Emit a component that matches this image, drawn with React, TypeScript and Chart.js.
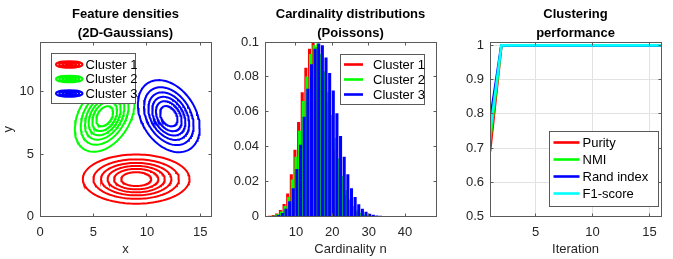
import React, { useEffect, useRef } from 'react';
import { Chart, registerables } from 'chart.js';

Chart.register(...registerables);

const FONT_FAMILY = "'Liberation Sans', Arial, Helvetica, sans-serif";
const AXIS_COLOR = '#262626';
const BOX_COLOR = '#5a5a5a';
const GRID_COLOR = '#e2e2e2';

// ---------- Panel 1: feature densities ----------
const CLUSTER_LABELS = ['Cluster 1', 'Cluster 2', 'Cluster 3'];
const CLUSTER_COLORS = ['#ff0000', '#00ff00', '#0000ff'];
const FEATURE_MEAN_X = [9, 6.05, 12.05];
const FEATURE_MEAN_Y = [3, 8.05, 8.05];
const FEATURE_VAR_X = [6.4, 2.0, 2.15];
const FEATURE_VAR_Y = [1.0, 2.1, 2.15];
const FEATURE_COV_XY = [0, 0.75, -0.7];
const CONTOUR_LEVELS = [1 / 7, 2 / 7, 3 / 7, 4 / 7, 5 / 7, 6 / 7];
const FEATURE_X_TICKS = [0, 5, 10, 15];
const FEATURE_Y_TICKS = [0, 5, 10];

// ---------- Panel 2: cardinality distributions ----------
const CARD_N = [3, 4, 5, 6, 7, 8, 9, 10, 11, 12, 13, 14, 15, 16, 17, 18, 19, 20, 21, 22, 23, 24, 25, 26, 27, 28, 29, 30, 31, 32, 33, 34, 35];
const CARD_P1 = [0.0002, 0.0006, 0.0015, 0.0035, 0.007, 0.013, 0.024, 0.038, 0.054, 0.071, 0.085, 0.096, 0.1, 0.097, 0.089, 0.078, 0.065, 0.051, 0.038, 0.027, 0.018, 0.012, 0.007, 0.004, 0.0024, 0.0013, 0.0007, 0.0003, 0.0002, 0, 0, 0, 0];
const CARD_P2 = [0.0001, 0.0004, 0.0011, 0.0027, 0.0058, 0.011, 0.021, 0.034, 0.049, 0.066, 0.08, 0.093, 0.098, 0.099, 0.093, 0.083, 0.071, 0.058, 0.045, 0.033, 0.023, 0.015, 0.0095, 0.0058, 0.0034, 0.0019, 0.001, 0.0005, 0.0003, 0.0001, 0, 0, 0];
const CARD_P3 = [0.0001, 0.0002, 0.0007, 0.0018, 0.0042, 0.0085, 0.016, 0.027, 0.041, 0.057, 0.073, 0.087, 0.096, 0.099, 0.098, 0.091, 0.082, 0.072, 0.059, 0.046, 0.034, 0.024, 0.016, 0.011, 0.0068, 0.0042, 0.0025, 0.0014, 0.0008, 0.0004, 0.0002, 0.0001, 0];
const CARD_X_TICKS = [10, 20, 30, 40];
const CARD_Y_TICKS = [0, 0.02, 0.04, 0.06, 0.08, 0.1];
const CARD_Y_LABELS = ['0', '0.02', '0.04', '0.06', '0.08', '0.1'];

// ---------- Panel 3: clustering performance ----------
const ITERATIONS = [1, 2, 3, 4, 5, 6, 7, 8, 9, 10, 11, 12, 13, 14, 15, 16];
const PURITY = [0.69, 1, 1, 1, 1, 1, 1, 1, 1, 1, 1, 1, 1, 1, 1, 1];
const NMI = [0.72, 1, 1, 1, 1, 1, 1, 1, 1, 1, 1, 1, 1, 1, 1, 1];
const RAND_INDEX = [0.78, 1, 1, 1, 1, 1, 1, 1, 1, 1, 1, 1, 1, 1, 1, 1];
const F1_SCORE = [0.745, 1, 1, 1, 1, 1, 1, 1, 1, 1, 1, 1, 1, 1, 1, 1];
const PERF_LABELS = ['Purity', 'NMI', 'Rand index', 'F1-score'];
const PERF_COLORS = ['#ff0000', '#00ff00', '#0000ff', '#00ffff'];
const PERF_X_TICKS = [5, 10, 15];
const PERF_Y_TICKS = [0.5, 0.6, 0.7, 0.8, 0.9, 1];
const PERF_Y_LABELS = ['0.5', '0.6', '0.7', '0.8', '0.9', '1'];

// ---------- layout constants ----------
const CANVAS_H = 259;
const AREA_TOP = 42;
const X_AXIS_H = 42.5;
const Y_AXIS_W = 40;
const BAR_OFFSETS = [-0.27, 0, 0.27];

const font13 = { family: FONT_FAMILY, size: 13 };

function makeAxis(o: { min: number; max: number; ticks: number[]; labels?: string[]; title?: string; horizontal: boolean; titlePad?: any }) {
  return {
    type: 'linear',
    min: o.min,
    max: o.max,
    offset: false,
    grid: { display: false, drawTicks: false },
    border: { display: false },
    ticks: {
      autoSkip: false,
      maxRotation: 0,
      minRotation: 0,
      padding: o.horizontal ? 8 : 6,
      color: AXIS_COLOR,
      font: font13,
      callback: (v: any, i: number) => (o.labels ? o.labels[i] : String(o.ticks[i])),
    },
    afterBuildTicks: (s: any) => {
      s.ticks = o.ticks.map((v) => ({ value: v }));
    },
    afterFit: (s: any) => {
      if (o.horizontal) s.height = X_AXIS_H;
      else s.width = Y_AXIS_W;
    },
    title: o.title
      ? { display: true, text: o.title, color: AXIS_COLOR, font: font13, padding: o.titlePad || { top: 0, bottom: 2 } }
      : { display: false },
  };
}

type LegendItem = { label: string; color: string; kind: 'ellipse' | 'line' };
type FrameCfg = {
  title: string[];
  xTicks: number[];
  yTicks: number[];
  grid?: boolean;
  legend: { x: number; y: number; w: number; h: number; rows: number[]; sampleX0: number; sampleX1: number; textX: number; items: LegendItem[] };
};

function framePlugin(cfg: FrameCfg) {
  return {
    id: 'matlabFrame',
    beforeDatasetsDraw(chart: any) {
      if (!cfg.grid) return;
      const { ctx, chartArea: a, scales } = chart;
      ctx.save();
      ctx.strokeStyle = GRID_COLOR;
      ctx.lineWidth = 1;
      cfg.xTicks.forEach((v) => {
        const p = Math.floor(scales.x.getPixelForValue(v)) + 0.5;
        ctx.beginPath();
        ctx.moveTo(p, a.top);
        ctx.lineTo(p, a.bottom);
        ctx.stroke();
      });
      cfg.yTicks.forEach((v) => {
        const p = Math.floor(scales.y.getPixelForValue(v)) + 0.5;
        ctx.beginPath();
        ctx.moveTo(a.left, p);
        ctx.lineTo(a.right, p);
        ctx.stroke();
      });
      ctx.restore();
    },
    afterDraw(chart: any) {
      const { ctx, chartArea: a, scales } = chart;
      ctx.save();
      const L = Math.floor(a.left) + 0.5;
      const R = Math.floor(a.right) + 0.5;
      const T = Math.floor(a.top) + 0.5;
      const B = Math.floor(a.bottom) + 0.5;
      ctx.strokeStyle = BOX_COLOR;
      ctx.lineWidth = 1;
      const tl = 3;
      ctx.beginPath();
      cfg.xTicks.forEach((v) => {
        const p = Math.floor(scales.x.getPixelForValue(v)) + 0.5;
        ctx.moveTo(p, B);
        ctx.lineTo(p, B - tl);
        ctx.moveTo(p, T);
        ctx.lineTo(p, T + tl);
      });
      cfg.yTicks.forEach((v) => {
        const p = Math.floor(scales.y.getPixelForValue(v)) + 0.5;
        ctx.moveTo(L, p);
        ctx.lineTo(L + tl, p);
        ctx.moveTo(R, p);
        ctx.lineTo(R - tl, p);
      });
      ctx.stroke();
      ctx.strokeRect(L, T, R - L, B - T);

      // legend
      const lg = cfg.legend;
      ctx.fillStyle = '#ffffff';
      ctx.fillRect(lg.x, lg.y, lg.w, lg.h);
      ctx.strokeStyle = BOX_COLOR;
      ctx.strokeRect(Math.floor(lg.x) + 0.5, Math.floor(lg.y) + 0.5, Math.round(lg.w), Math.round(lg.h));
      ctx.font = `13px ${FONT_FAMILY}`;
      ctx.textBaseline = 'middle';
      ctx.textAlign = 'left';
      lg.items.forEach((it, i) => {
        const cy = lg.rows[i];
        ctx.strokeStyle = it.color;
        if (it.kind === 'line') {
          ctx.lineWidth = 2.6;
          ctx.beginPath();
          ctx.moveTo(lg.sampleX0, cy);
          ctx.lineTo(lg.sampleX1, cy);
          ctx.stroke();
        } else {
          const cx = (lg.sampleX0 + lg.sampleX1) / 2;
          const hw = (lg.sampleX1 - lg.sampleX0) / 2;
          ctx.lineWidth = 2;
          for (let k = 0; k < 4; k++) {
            ctx.beginPath();
            ctx.ellipse(cx, cy, Math.max(hw - 1 - k * 3.2, 1), Math.max(3.2 - k * 0.8, 0.4), 0, 0, Math.PI * 2);
            ctx.stroke();
          }
        }
        ctx.fillStyle = '#000000';
        ctx.fillText(it.label, lg.textX, cy + 0.5);
      });

      // title
      ctx.font = `bold 13px ${FONT_FAMILY}`;
      ctx.fillStyle = '#000000';
      ctx.textAlign = 'center';
      ctx.textBaseline = 'alphabetic';
      const cx = (a.left + a.right) / 2;
      cfg.title.forEach((t, i) => ctx.fillText(t, cx, 18 + i * 18.5));
      ctx.restore();
    },
  };
}

function ellipsePoints(k: number, level: number) {
  const r = Math.sqrt(-2 * Math.log(level));
  const a = FEATURE_VAR_X[k];
  const c = FEATURE_COV_XY[k];
  const b = FEATURE_VAR_Y[k];
  const l11 = Math.sqrt(a);
  const l21 = c / l11;
  const l22 = Math.sqrt(b - l21 * l21);
  const pts: { x: number; y: number }[] = [];
  const N = 120;
  for (let i = 0; i <= N; i++) {
    const t = (i / N) * Math.PI * 2;
    const u = Math.cos(t);
    const w = Math.sin(t);
    pts.push({ x: FEATURE_MEAN_X[k] + r * l11 * u, y: FEATURE_MEAN_Y[k] + r * (l21 * u + l22 * w) });
  }
  return pts;
}

function baseOptions(scales: any) {
  return {
    responsive: false,
    animation: false,
    events: [],
    layout: { padding: { top: AREA_TOP, left: 0, bottom: 0, right: 14 } },
    plugins: { legend: { display: false }, title: { display: false }, tooltip: { enabled: false } },
    scales,
  };
}

function featureConfig(): any {
  const datasets: any[] = [];
  CLUSTER_COLORS.forEach((col, k) => {
    CONTOUR_LEVELS.forEach((lv) => {
      datasets.push({
        data: ellipsePoints(k, lv),
        borderColor: col,
        borderWidth: 2,
        showLine: true,
        pointRadius: 0,
        fill: false,
        tension: 0,
      });
    });
  });
  return {
    type: 'scatter',
    data: { datasets },
    options: baseOptions({
      x: makeAxis({ min: 0, max: 16, ticks: FEATURE_X_TICKS, title: 'x', horizontal: true }),
      y: makeAxis({ min: 0, max: 14, ticks: FEATURE_Y_TICKS, title: 'y', horizontal: false, titlePad: { top: 1, bottom: 0 } }),
    }),
    plugins: [
      framePlugin({
        title: ['Feature densities', '(2D-Gaussians)'],
        xTicks: FEATURE_X_TICKS,
        yTicks: FEATURE_Y_TICKS,
        legend: {
          x: 51.5, y: 53.5, w: 84, h: 50,
          rows: [64.5, 79, 93.5],
          sampleX0: 55, sampleX1: 83.5, textX: 85.5,
          items: CLUSTER_LABELS.map((l, i) => ({ label: l, color: CLUSTER_COLORS[i], kind: 'ellipse' as const })),
        },
      }),
    ],
  };
}

function cardinalityConfig(): any {
  const series = [CARD_P1, CARD_P2, CARD_P3];
  const datasets = series.map((vals, k) => ({
    data: CARD_N.map((n, i) => ({ x: n + BAR_OFFSETS[k], y: vals[i] })),
    backgroundColor: CLUSTER_COLORS[k],
    borderWidth: 0,
    barThickness: 2.4,
    grouped: false,
    order: 3 - k,
  }));
  return {
    type: 'bar',
    data: { datasets },
    options: baseOptions({
      x: makeAxis({ min: 1.5, max: 48.5, ticks: CARD_X_TICKS, title: 'Cardinality n', horizontal: true }),
      y: makeAxis({ min: 0, max: 0.1, ticks: CARD_Y_TICKS, labels: CARD_Y_LABELS, horizontal: false }),
    }),
    plugins: [
      framePlugin({
        title: ['Cardinality distributions', '(Poissons)'],
        xTicks: CARD_X_TICKS,
        yTicks: CARD_Y_TICKS,
        legend: {
          x: 115.5, y: 54, w: 83.5, h: 49.5,
          rows: [64.5, 79.5, 94.5],
          sampleX0: 119, sampleX1: 138, textX: 148,
          items: CLUSTER_LABELS.map((l, i) => ({ label: l, color: CLUSTER_COLORS[i], kind: 'line' as const })),
        },
      }),
    ],
  };
}

function performanceConfig(): any {
  const series = [PURITY, NMI, RAND_INDEX, F1_SCORE];
  const datasets = series.map((vals, k) => ({
    data: ITERATIONS.map((it, i) => ({ x: it, y: vals[i] })),
    borderColor: PERF_COLORS[k],
    borderWidth: 2.6,
    pointRadius: 0,
    fill: false,
    tension: 0,
    order: 4 - k,
  }));
  const opts: any = baseOptions({
    x: makeAxis({ min: 1, max: 16, ticks: PERF_X_TICKS, title: 'Iteration', horizontal: true }),
    y: makeAxis({ min: 0.5, max: 1.01, ticks: PERF_Y_TICKS, labels: PERF_Y_LABELS, horizontal: false }),
  });
  opts.layout.padding.right = 12;
  return {
    type: 'line',
    data: { datasets },
    options: opts,
    plugins: [
      framePlugin({
        title: ['Clustering', 'performance'],
        xTicks: PERF_X_TICKS,
        yTicks: PERF_Y_TICKS,
        grid: true,
        legend: {
          x: 99.5, y: 131.5, w: 109, h: 75,
          rows: [142.5, 159.5, 176.5, 193.5],
          sampleX0: 103.5, sampleX1: 129.5, textX: 132.5,
          items: PERF_LABELS.map((l, i) => ({ label: l, color: PERF_COLORS[i], kind: 'line' as const })),
        },
      }),
    ],
  };
}

function Panel({ left, width, make }: { left: number; width: number; make: () => any }) {
  const ref = useRef<HTMLCanvasElement>(null);
  useEffect(() => {
    const chart = new Chart(ref.current as HTMLCanvasElement, make());
    return () => chart.destroy();
  }, []);
  return (
    <div style={{ position: 'absolute', left, top: 0, width, height: CANVAS_H }}>
      <canvas ref={ref} width={width} height={CANVAS_H} style={{ width, height: CANVAS_H, display: 'block' }} />
    </div>
  );
}

export default function App() {
  return (
    <div style={{ position: 'fixed', left: 0, top: 0, width: 673, height: 259, background: '#ffffff', overflow: 'hidden' }}>
      <Panel left={0} width={225} make={featureConfig} />
      <Panel left={225} width={225} make={cardinalityConfig} />
      <Panel left={450} width={223} make={performanceConfig} />
    </div>
  );
}
